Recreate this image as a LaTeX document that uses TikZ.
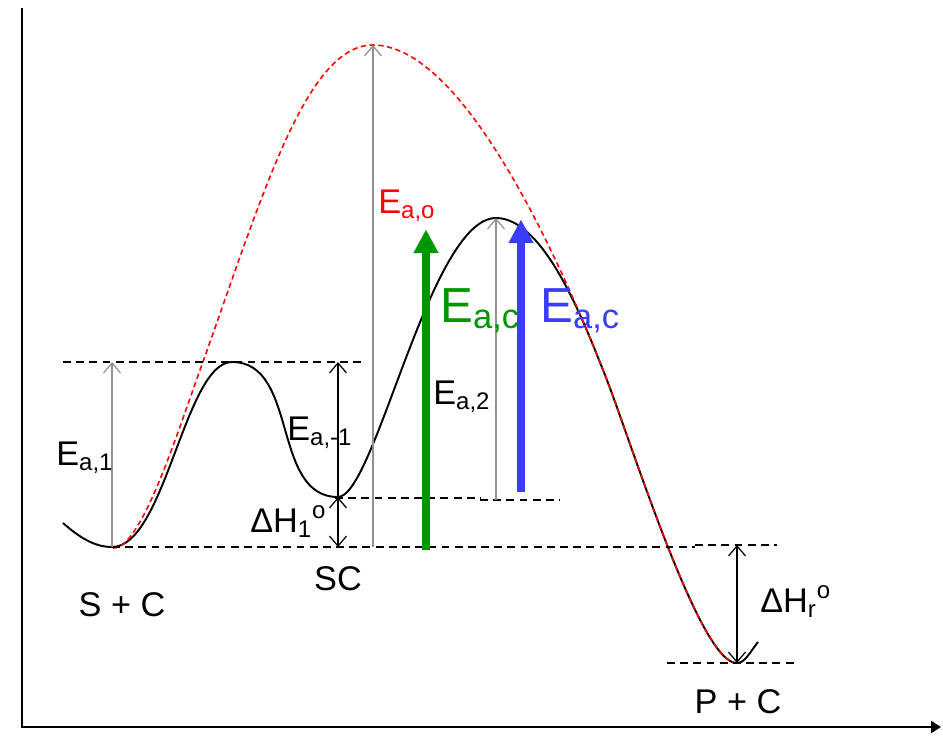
\documentclass[tikz,border=0pt]{standalone}
\usepackage{fontspec}
\setmainfont{Liberation Sans}
\usetikzlibrary{arrows.meta}
\definecolor{cgreen}{RGB}{0,150,0}
\definecolor{cblue}{RGB}{60,60,255}
\definecolor{cgrey}{RGB}{145,145,145}
\newcommand{\lab}{\fontsize{19.5}{23}\selectfont}
\newcommand{\biglab}{\fontsize{28}{32}\selectfont}
\tikzset{
  level/.style={dash pattern=on 4.5pt off 3pt, line width=0.7pt},
  thinarrow/.style={-{Straight Barb[length=2mm,width=3.4mm]}, line width=0.7pt},
  botharrow/.style={{Straight Barb[length=2mm,width=3.4mm]}-{Straight Barb[length=2mm,width=3.4mm]}, line width=0.7pt},
  bigarrow/.style={-{Triangle[length=4.6mm,width=5mm,line width=0.1pt]}, line width=4.5pt},
}

\begin{document}
\begin{tikzpicture}[x=0.2mm, y=-0.2mm]
		\useasboundingbox (0,0) rectangle (943,735);
		% Draw axes
		\draw[line width=1.6pt, -{Triangle[length=2mm,width=2.4mm]}] (22,8) -- (22,727) -- (941,727);
		% Minima and maxima of the paths
		\coordinate (sc) at (112,547);
		\coordinate (ts1) at (232,362);
		\coordinate (int) at (338,497);
		\coordinate (ts2) at (496,218);
		\coordinate (tsu) at (373,45);
		\coordinate (pc) at (737,663);
		\coordinate (join) at (605,375);
		% Catalysed path
		\draw[line width=1.1pt] (63,523) .. controls (80,538) and (95,547) .. (sc)
			.. controls (165,547) and (185,362) .. (ts1)
			.. controls (299,362) and (271,497) .. (int)
			.. controls (375,497) and (430,218) .. (ts2)
			.. controls (545,218) and (585,325) .. (join)
			.. controls (630,438) and (700,665) .. (pc)
			.. controls (745,663) and (750,652) .. (758,642);
		% Uncatalysed path (red, dashed)
		\draw[red, line width=0.9pt, dash pattern=on 3pt off 2pt]
			(113,548) .. controls (140,550) and (175,440) .. (200,370)
			.. controls (261,201) and (305,45) .. (tsu)
			.. controls (470,45) and (572,291) .. (join)
			.. controls (630,438) and (700,665) .. (pc);
		% Energy levels
		\draw[level] (63,362) -- (363,362);
		\draw[level] (112,547) -- (695,547);
		\draw[level] (695,545) -- (777,545);
		\draw[level] (335,498) -- (480,498);
		\draw[level] (480,500) -- (560,500);
		\draw[level] (667,663) -- (797,663);
		% Activation energies and enthalpies
		\draw[thinarrow, cgrey] (sc) -- (sc |- ts1);
		\draw[thinarrow] (int) -- (int |- ts1);
		\draw[botharrow] (int) -- (int |- sc);
		\draw[thinarrow, cgrey] (tsu |- sc) -- (tsu);
		\draw[thinarrow, cgrey] (ts2 |- int) ++(0,3) -- (ts2);
		\draw[botharrow] (pc |- 0,545) -- (pc);
		\coordinate (gtop) at (426,230);
		\coordinate (btop) at (521,220);
		\draw[bigarrow, cgreen] (426,550) -- (gtop);
		\draw[bigarrow, cblue] (521,492) -- (btop);
		% Labels
		\node[anchor=base west, inner sep=0pt] (lea1) at (56,465) {\lab E\textsubscript{a,1}};
		\node[anchor=base west, inner sep=0pt] (leam1) at (287,440) {\lab E\textsubscript{a,-1}};
		\node[anchor=base west, inner sep=0pt] (ldh1) at (250,532) {\lab ΔH\textsubscript{1}\textsuperscript{o}};
		\node[anchor=base west, inner sep=0pt, red] (leao) at (378,213) {\lab E\textsubscript{a,o}};
		\node[anchor=base west, inner sep=0pt] (lea2) at (433,404) {\lab E\textsubscript{a,2}};
		\node[anchor=base west, inner sep=0pt, cgreen] (leacg) at (440,322) {\biglab E\textsubscript{a,c}};
		\node[anchor=base west, inner sep=0pt, cblue] (leacb) at (540,322) {\biglab E\textsubscript{a,c}};
		\node[anchor=base west, inner sep=0pt] (ldhr) at (760,612) {\lab ΔH\textsubscript{r}\textsuperscript{o}};
		\node[anchor=base, inner sep=0pt] (lsc) at (122,616) {\lab S + C};
		\node[anchor=base, inner sep=0pt] (lint) at (338,590) {\lab SC};
		\node[anchor=base, inner sep=0pt] (lpc) at (738,713) {\lab P + C};
	\end{tikzpicture}
\end{document}
